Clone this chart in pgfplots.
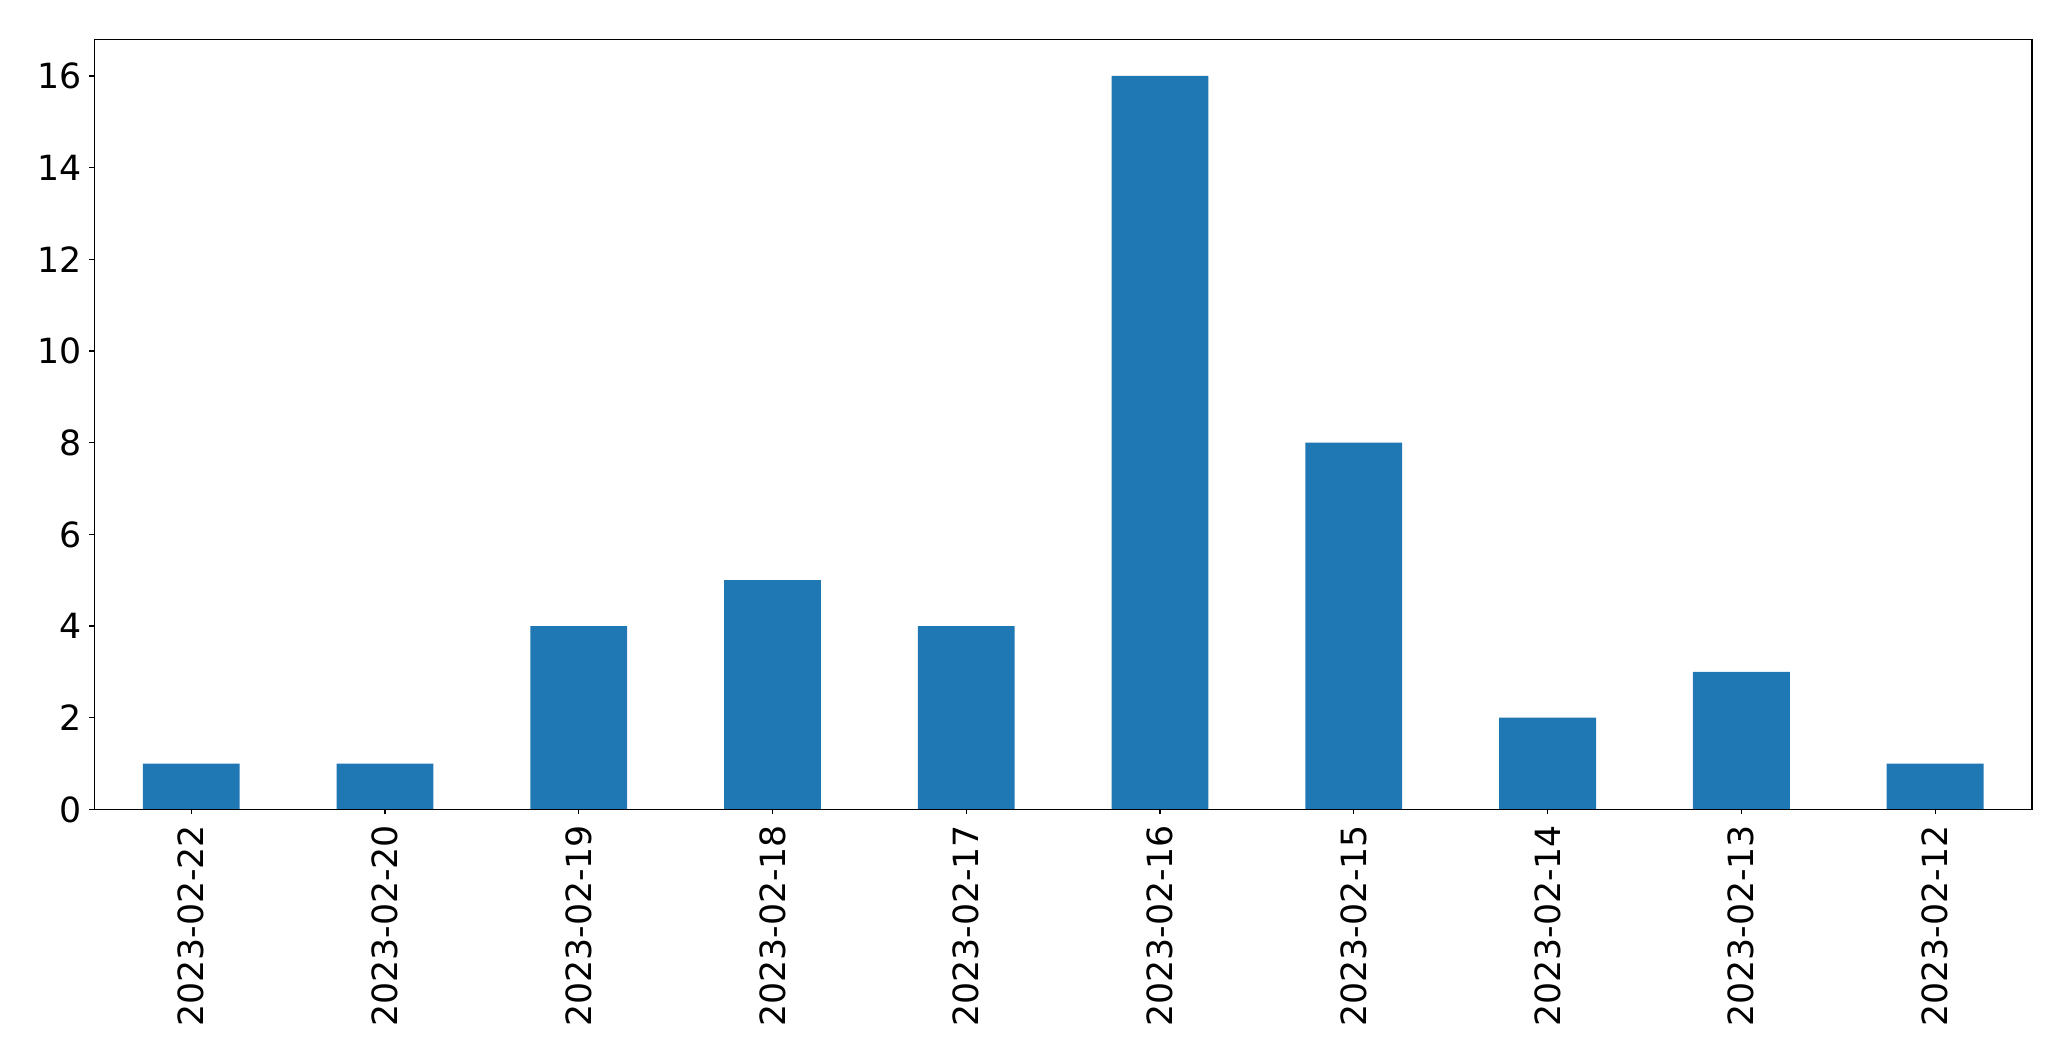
\documentclass[border=0pt]{standalone}
\usepackage{fontspec}
\setmainfont{DejaVu Sans}
\usepackage{pgfplots}
\pgfplotsset{compat=1.18}
\definecolor{mplblue}{HTML}{1F77B4}
\begin{document}
\begin{tikzpicture}
\begin{axis}[
    name=ax,
    scale only axis,
    width=1395pt, height=554.4pt,
    xmin=-0.5, xmax=9.5,
    ymin=0, ymax=16.8,
    xtick={0,...,9},
    xticklabels={2023-02-22,2023-02-20,2023-02-19,2023-02-18,2023-02-17,
                 2023-02-16,2023-02-15,2023-02-14,2023-02-13,2023-02-12},
    ytick={0,2,...,16},
    tick pos=left,
    tick align=outside,
    major tick length=3.5pt,
    tick style={black, line width=0.8pt},
    axis line style={line width=0.8pt},
    axis on top,
    font=\fontsize{25}{30}\selectfont,
    /pgf/number format/assume math mode=true,
    x tick label style={rotate=90, anchor=east, inner sep=0pt},
    y tick label style={inner sep=0pt},
    xticklabel shift=7.5pt,
    yticklabel shift=5.5pt,
]
\addplot[ybar, bar width=0.5, fill=mplblue, draw=none] coordinates {
    (0,1) (1,1) (2,4) (3,5) (4,4) (5,16) (6,8) (7,2) (8,3) (9,1)
};
\end{axis}
\pgfresetboundingbox
\path ([shift={(-67.9pt,-181.4pt)}]ax.south west) rectangle ([shift={(28.1pt,28.3pt)}]ax.north east);
\end{tikzpicture}
\end{document}
